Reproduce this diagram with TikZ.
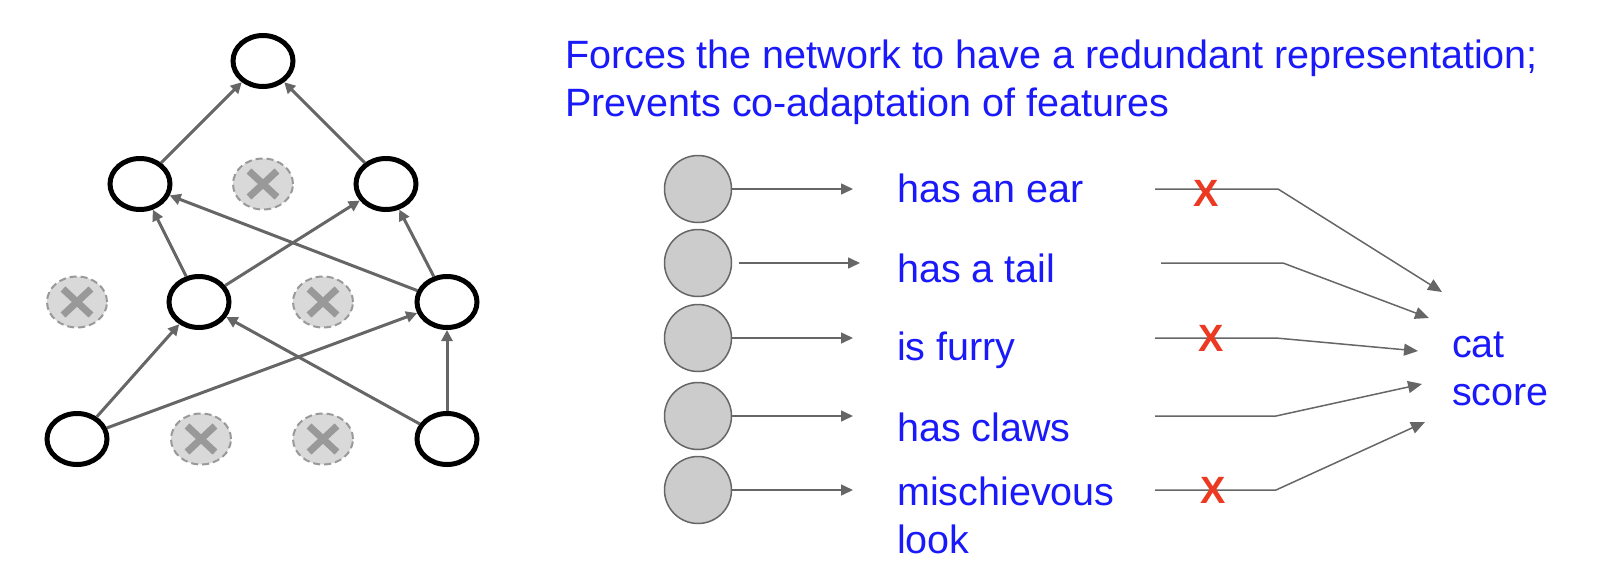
\documentclass[tikz,border=0pt]{standalone}
\usepackage{fontspec}
\setmainfont{Liberation Sans}
\usetikzlibrary{arrows.meta,shapes.geometric}
\definecolor{txtblue}{RGB}{25,25,250}
\definecolor{edgegray}{HTML}{666666}
\definecolor{dropfill}{HTML}{D9D9D9}
\definecolor{dropline}{HTML}{999999}
\definecolor{featfill}{HTML}{CCCCCC}
\definecolor{xred}{RGB}{236,58,34}
\begin{document}
\begin{tikzpicture}[x=1pt,y=-1pt,
 unit/.style={draw=black, line width=5pt, ellipse, minimum width=60pt, minimum height=51pt, inner sep=0pt, fill=white},
 dropunit/.style={draw=dropline, fill=dropfill, line width=2pt, dash pattern=on 7pt off 4pt, ellipse, minimum width=60pt, minimum height=51pt, inner sep=0pt,
   path picture={\draw[dropline, line width=7pt, solid]
     ([shift={(-14pt,-13pt)}]path picture bounding box.center) -- ([shift={(14pt,13pt)}]path picture bounding box.center)
     ([shift={(-14pt,13pt)}]path picture bounding box.center) -- ([shift={(14pt,-13pt)}]path picture bounding box.center);}},
 netedge/.style={draw=edgegray, line width=3pt, -{Triangle[length=11pt,width=11pt]}},
 feat/.style={circle, draw=edgegray, fill=featfill, line width=1.5pt, minimum size=67pt, inner sep=0pt},
 featarrow/.style={draw=edgegray, line width=1.5pt, -{Triangle[length=12pt,width=11pt]}},
 scorearrow/.style={draw=edgegray, line width=1.5pt, -{Triangle[length=14pt,width=12pt]}},
 lbl/.style={text=txtblue, font=\fontsize{39.5}{48}\selectfont, inner sep=0pt, anchor=base west, align=left},
 cross/.style={text=xred, font=\fontsize{38}{40}\selectfont\bfseries, inner sep=0pt}
]
\useasboundingbox (0,0) rectangle (1600,584);

% ---------- left network ----------
\node[unit] (t) at (263,61) {};
\node[unit] (h1) at (140,184) {};
\node[dropunit] (d1) at (263,184) {};
\node[unit] (h2) at (386,184) {};
\node[dropunit] (m0) at (77,302) {};
\node[unit] (m1) at (199,302) {};
\node[dropunit] (m2) at (323,302) {};
\node[unit] (m3) at (447,302) {};
\node[unit] (b1) at (77,439) {};
\node[dropunit] (b2) at (201,439) {};
\node[dropunit] (b3) at (323,439) {};
\node[unit] (b4) at (447,439) {};

\draw[netedge] (h1) -- (t);
\draw[netedge] (h2) -- (t);
\draw[netedge] (m1) -- (h1);
\draw[netedge] (m1) -- (h2);
\draw[netedge] (m3) -- (h1);
\draw[netedge] (m3) -- (h2);
\draw[netedge] (b1) -- (m1);
\draw[netedge] (b1) -- (m3);
\draw[netedge] (b4) -- (m1);
\draw[netedge] (b4) -- (m3);

% ---------- title (anchor = baseline of last line) ----------
\node[lbl] (title) at (565,116) {Forces the network to have a redundant representation;\\Prevents co-adaptation of features};

% ---------- feature units ----------
\node[feat] (c1) at (698,189) {};
\node[feat] (c2) at (698,263) {};
\node[feat] (c3) at (698,338) {};
\node[feat] (c4) at (698,416) {};
\node[feat] (c5) at (698,490) {};

\coordinate (a1) at (853,189);
\coordinate (a2s) at (739,263);
\coordinate (a2) at (860,263);
\coordinate (a3) at (853,338);
\coordinate (a4) at (853,416);
\coordinate (a5) at (853,490);

\draw[featarrow] (c1.east) -- (a1);
\draw[featarrow] (a2s) -- (a2);
\draw[featarrow] (c3.east) -- (a3);
\draw[featarrow] (c4.east) -- (a4);
\draw[featarrow] (c5.east) -- (a5);

\node[lbl] (l1) at (897,202) {has an ear};
\node[lbl] (l2) at (897,282) {has a tail};
\node[lbl] (l3) at (897,360) {is furry};
\node[lbl] (l4) at (897,441) {has claws};
\node[lbl] (l5) at (897,553) {mischievous\\look};

\node[lbl] (cat) at (1452,405) {cat\\score};

% ---------- connections to score ----------
\coordinate (s1) at (1155,189); \coordinate (k1) at (1278,189); \coordinate (e1) at (1442,292);
\coordinate (s2) at (1161,263); \coordinate (k2) at (1283,263); \coordinate (e2) at (1429,318);
\coordinate (s3) at (1155,338); \coordinate (k3) at (1276,338); \coordinate (e3) at (1418,351);
\coordinate (s4) at (1155,416); \coordinate (k4) at (1276,416); \coordinate (e4) at (1422,384);
\coordinate (s5) at (1155,490); \coordinate (k5) at (1276,490); \coordinate (e5) at (1425,422);

\draw[scorearrow] (s1) -- (k1) -- (e1);
\draw[scorearrow] (s2) -- (k2) -- (e2);
\draw[scorearrow] (s3) -- (k3) -- (e3);
\draw[scorearrow] (s4) -- (k4) -- (e4);
\draw[scorearrow] (s5) -- (k5) -- (e5);

\node[cross] (x1) at (1206,193) {X};
\node[cross] (x3) at (1211,338) {X};
\node[cross] (x5) at (1213,490) {X};
\end{tikzpicture}
\end{document}
